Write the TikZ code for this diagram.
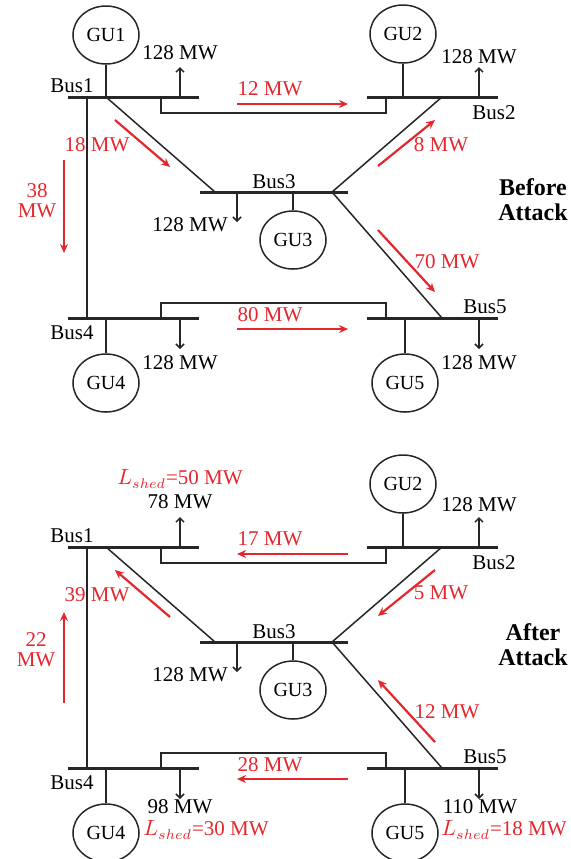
\documentclass[tikz,border=0pt]{standalone}
\usepackage{fontspec}
\setmainfont{Liberation Serif}
\usetikzlibrary{arrows.meta,shapes.geometric,positioning}

\definecolor{flowred}{RGB}{228,38,45}
\tikzset{
    busbar/.style = {line width=1.5pt, black!85},
    branch/.style = {line width=0.75pt, black!85},
    loadarrow/.style = {line width=0.75pt, black!85, -{Straight Barb[length=2pt,width=4pt]}},
    flow/.style = {line width=1.1pt, flowred, -{Stealth[length=4.5pt,width=4pt]}},
    gen/.style = {ellipse, draw, line width=0.75pt, black!85, text=black, minimum width=33pt, minimum height=29pt, inner sep=0pt},
    lbl/.style = {font=\fontsize{10.5}{10}\selectfont, inner sep=0pt},
    flowlbl/.style = {lbl, text=flowred, align=center},
    headline/.style = {font=\fontsize{12}{12.5}\selectfont\bfseries, align=center, inner sep=0pt}
}

% Five-bus network, #1 is the prefix of the names.
\newcommand{\network}[1]{%
    % Draw bus bars.
    \foreach \n/\xa/\xb/\y in {1/68/199/97, 2/367/498/97, 3/200/348/192,
                               4/68/199/318, 5/367/498/318}
        \draw[busbar] (\xa,\y) -- (\xb,\y);
    \foreach \n/\x/\y in {1/72/86, 2/494/113, 3/274/182, 4/72/333, 5/485/307}
        \node[lbl] (#1bus\n) at (\x,\y) {Bus\n};

    % Tap points on the bars.
    \foreach \p/\x/\y in {14/87/97, 41/87/318, 12/161/97, 21/386/97,
                          13/106/97, 31/215/192, 23/442/97, 32/332/192,
                          53/442/318, 45/161/318, 54/386/318}
        \coordinate (#1t\p) at (\x,\y);

    % Draw branches.
    \draw[branch] (#1t14) -- (#1t41);
    \draw[branch] (#1t12) -- ++(0,16) -| (#1t21);
    \draw[branch] (#1t45) -- ++(0,-15) -| (#1t54);
    \draw[branch] (#1t13) -- (#1t31);
    \draw[branch] (#1t23) -- (#1t32) -- (#1t53);

    % Draw generating units.
    \foreach \g/\x/\y/\b in {2/403/34/97, 3/293/240/192, 4/106/383/318, 5/405/383/318}
    {
        \node[gen] (#1gu\g) at (\x,\y) {GU\g};
        \coordinate (#1g\g) at (\x,\b);
        \draw[branch] (#1gu\g) -- (#1g\g);
    }

    % Draw loads.
    \foreach \l/\x/\y/\e in {1/180/97/67, 2/479/97/67, 3/237/192/222,
                             4/180/318/349, 5/479/318/349}
    {
        \coordinate (#1l\l) at (\x,\y);
        \coordinate (#1d\l) at (\x,\e);
        \draw[loadarrow] (#1l\l) -- (#1d\l);
    }
}

\begin{document}
\begin{tikzpicture}[x=0.5pt, y=-0.5pt]
    \useasboundingbox (0,0) rectangle (571,859);

    % Before attack.
    \begin{scope}
        \network{b}
        \node[gen] (bgu1) at (106,35) {GU1};
        \draw[branch] (bgu1) -- (bt13);

        \foreach \l/\x/\y in {1/180/53, 2/479/57, 3/190/225, 4/180/363, 5/479/363}
            \node[lbl] (bload\l) at (\x,\y) {128 MW};

        % Power flows.
        \foreach \i/\xa/\ya/\xb/\yb/\lx/\ly/\txt in {
                1/237/104/348/104/270/89/12 MW,
                2/115/120/170/167/97/145/18 MW,
                3/64/160/64/253/37/201/38\\MW,
                4/378/166/435/120/441/145/8 MW,
                5/378/230/435/292/447/262/70 MW,
                6/237/329/348/329/270/315/80 MW}
        {
            \coordinate (bfs\i) at (\xa,\ya);
            \coordinate (bfe\i) at (\xb,\yb);
            \draw[flow] (bfs\i) -- (bfe\i);
            \node[flowlbl] (bflow\i) at (\lx,\ly) {\txt};
        }

        \node[headline] (before) at (533,200) {Before\\Attack};
    \end{scope}

    % After attack.
    \begin{scope}[shift={(0,450)}]
        \network{a}

        \node[lbl] (aload1) at (180,52) {78 MW};
        \node[flowlbl] (ashed1) at (180,29) {$L_{shed}$=50 MW};
        \node[lbl] (aload2) at (479,55) {128 MW};
        \node[lbl] (aload3) at (190,225) {128 MW};
        \node[lbl] (aload4) at (180,357) {98 MW};
        \node[flowlbl] (ashed4) at (206,380) {$L_{shed}$=30 MW};
        \node[lbl] (aload5) at (480,357) {110 MW};
        \node[flowlbl] (ashed5) at (504,380) {$L_{shed}$=18 MW};

        % Power flows.
        \foreach \i/\xa/\ya/\xb/\yb/\lx/\ly/\txt in {
                1/348/104/237/104/270/89/17 MW,
                2/170/167/115/120/97/145/39 MW,
                3/64/253/64/162/36/200/22\\MW,
                4/435/120/378/166/441/143/5 MW,
                5/435/292/378/230/447/262/12 MW,
                6/348/329/237/329/270/315/28 MW}
        {
            \coordinate (afs\i) at (\xa,\ya);
            \coordinate (afe\i) at (\xb,\yb);
            \draw[flow] (afs\i) -- (afe\i);
            \node[flowlbl] (aflow\i) at (\lx,\ly) {\txt};
        }

        \node[headline] (after) at (533,195) {After\\Attack};
    \end{scope}
\end{tikzpicture}
\end{document}
